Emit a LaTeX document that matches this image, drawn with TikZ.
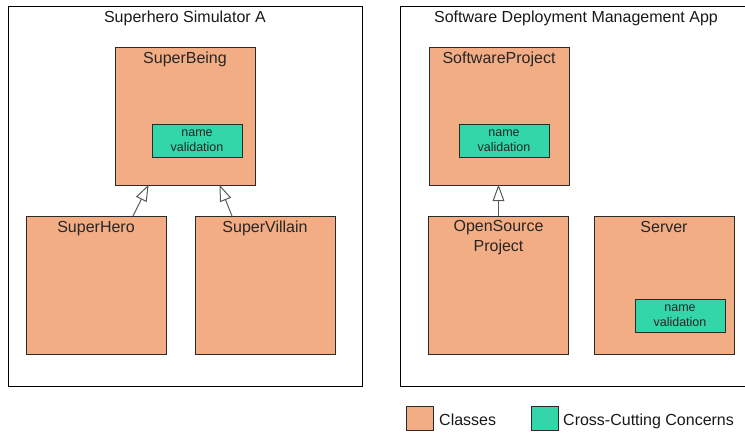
\documentclass[tikz,border=0pt]{standalone}
\usepackage{fontspec}
\setmainfont{Liberation Sans}
\usetikzlibrary{calc}
\definecolor{classfill}{HTML}{F2AD85}
\definecolor{concernfill}{HTML}{33D6A9}
\definecolor{edge}{HTML}{2A2A2A}
\tikzset{
  panel/.style={draw=black, line width=0.9pt},
  cls/.style={draw=edge, fill=classfill, line width=0.9pt, minimum width=140pt, minimum height=138pt, inner sep=0pt, outer sep=0pt, anchor=north west},
  clsname/.style={font=\fontsize{16}{19.5}\selectfont, text=black!85, inner sep=0pt, align=center},
  concern/.style={draw=edge, fill=concernfill, line width=0.9pt, minimum width=90pt, minimum height=33pt, inner sep=0pt, align=center, font=\fontsize{12.5}{14.5}\selectfont, text=black!85},
  heading/.style={font=\fontsize{16}{19}\selectfont, inner sep=0pt, text=black!90},
  swatch/.style={draw=edge, line width=0.9pt, minimum width=27pt, minimum height=24pt, inner sep=0pt, anchor=north west},
  legendtext/.style={font=\fontsize{16}{19}\selectfont, inner sep=0pt, anchor=base west, text=black!90},
  generalization/.style={draw=black!65, line width=1pt},
  umltriangle/.style={draw=black!65, line width=1pt, fill=white, line join=miter},
}
% generalization connector with a hollow triangular head at the parent end
\newcommand\generalize[2]{%
  \draw[generalization] (#1) -- ($(#2)!14pt!(#1)$);
  \draw[umltriangle] (#2) -- ($(#2)!15.5pt!20:(#1)$) -- ($(#2)!15.5pt!-20:(#1)$) -- cycle;
}
\begin{document}
\begin{tikzpicture}[x=1pt, y=-1pt]
\useasboundingbox (0,0) rectangle (745,433);
\begin{scope}
\clip (0,0) rectangle (745,433);

% left panel: superhero simulator
\draw[panel] (8,6) rectangle (362,386);
\node[heading, anchor=base] (titleA) at (185,22.5) {Superhero Simulator A};

\node[cls] (being) at (115,47) {};
\node[clsname, anchor=base] (beingname) at ([yshift=-17pt]being.north) {SuperBeing};
\node[concern] (beingcc) at (197,140.5) {name\\validation};

\node[cls] (hero) at (26,216) {};
\node[clsname, anchor=base] (heroname) at ([yshift=-16.5pt]hero.north) {SuperHero};

\node[cls] (villain) at (195,216) {};
\node[clsname, anchor=base] (villainname) at ([yshift=-16.5pt]villain.north) {SuperVillain};

\coordinate (herotop) at ([xshift=107pt]hero.north west);
\coordinate (beingleft) at ([xshift=33pt, yshift=-1pt]being.south west);
\coordinate (villaintop) at ([xshift=37pt]villain.north west);
\coordinate (beingright) at ([xshift=105pt, yshift=-1pt]being.south west);
\generalize{herotop}{beingleft}
\generalize{villaintop}{beingright}

% right panel: software deployment
\draw[panel] (400,6) rectangle (760,386);
\node[heading, anchor=base] (titleB) at (576,22.5) {Software Deployment Management App};

\node[cls] (project) at (429,47) {};
\node[clsname, anchor=base] (projectname) at ([yshift=-17pt]project.north) {SoftwareProject};
\node[concern] (projectcc) at (504,140.5) {name\\validation};

\node[cls] (open) at (428.5,216) {};
\node[clsname, anchor=north] (openname) at ([yshift=-4.5pt]open.north) {OpenSource\\Project};

\node[cls] (server) at (594,216) {};
\node[clsname, anchor=base] (servername) at ([yshift=-16.5pt]server.north) {Server};
\node[concern] (servercc) at (680,315.5) {name\\validation};

\coordinate (opentop) at (open.north);
\coordinate (projectbottom) at ([yshift=-1pt]open.north |- project.south);
\generalize{opentop}{projectbottom}

% legend
\node[swatch, fill=classfill] (keyclass) at (406,406) {};
\node[legendtext] (keyclasstext) at (439,425.5) {Classes};
\node[swatch, fill=concernfill] (keyconcern) at (531,406) {};
\node[legendtext] (keyconcerntext) at (563,425.5) {Cross-Cutting Concerns};
\end{scope}
\end{tikzpicture}
\end{document}
